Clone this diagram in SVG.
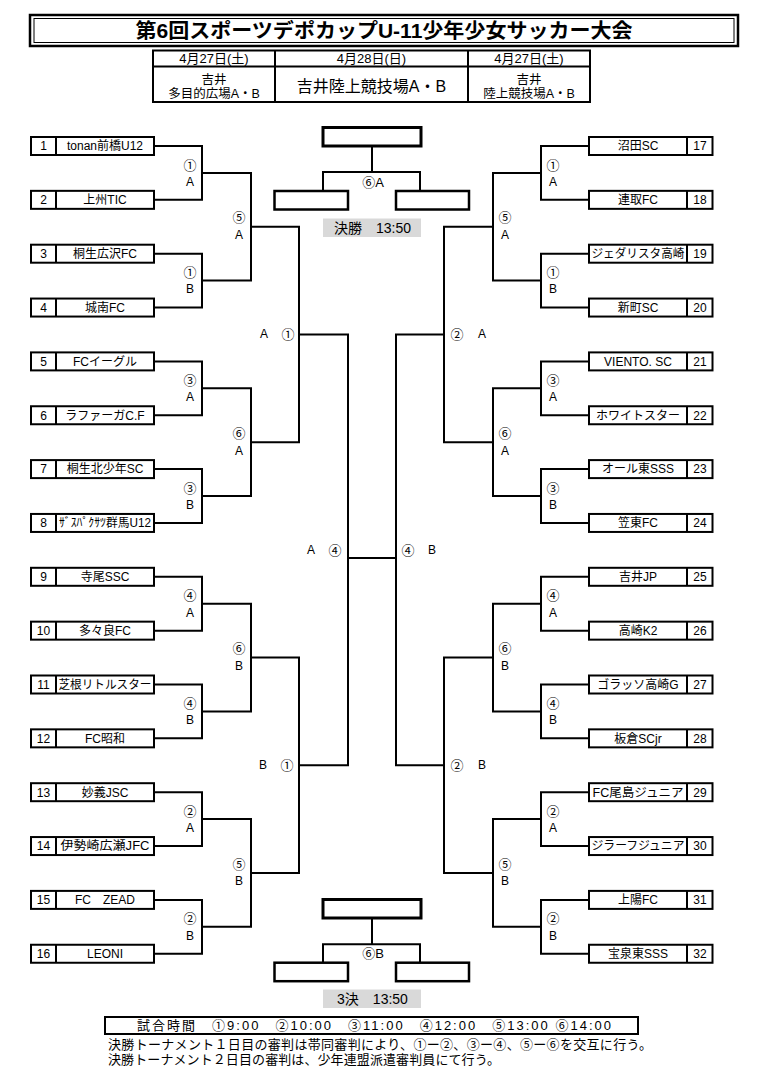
<svg xmlns="http://www.w3.org/2000/svg" width="760" height="1084" viewBox="0 0 760 1084">
<style>
.bg{fill:#fff}
.box{fill:#fff;stroke:#000;stroke-width:2}
.fbox{fill:#fff;stroke:#000;stroke-width:2.5}
.dv{stroke:#000;stroke-width:2}
.ln{fill:none;stroke:#000;stroke-width:2}
.t{font-family:"Liberation Sans","Noto Sans CJK JP",sans-serif;font-size:12px;text-anchor:middle;fill:#000}
.c{font-family:"Liberation Sans","Noto Sans CJK JP",sans-serif;font-size:13px;text-anchor:middle;fill:#000}
.l{font-family:"Liberation Sans","Noto Sans CJK JP",sans-serif;font-size:13px;fill:#000}
.grey{fill:#d9d9d9}
</style>
<rect class="bg" x="0" y="0" width="760" height="1084"/>

<g id="title">
<rect x="30" y="15" width="708" height="31" fill="#fff" stroke="#000" stroke-width="2.5"/>
<rect x="34" y="18.5" width="700" height="24" fill="none" stroke="#000" stroke-width="1"/>
<text x="384" y="38" font-family="'Liberation Sans','Noto Sans CJK JP',sans-serif" font-size="20" font-weight="bold" text-anchor="middle" textLength="497" lengthAdjust="spacingAndGlyphs">第6回スポーツデポカップU-11少年少女サッカー大会</text>
</g>

<g id="venue-table">
<rect x="153" y="50.5" width="437" height="51.5" fill="#fff" stroke="#000" stroke-width="2"/>
<line class="dv" x1="153" y1="66.5" x2="590" y2="66.5"/>
<line class="dv" x1="275" y1="50.5" x2="275" y2="102"/>
<line class="dv" x1="468" y1="50.5" x2="468" y2="102"/>
<text class="t" x="214" y="63.3" style="font-size:13px">4月27日(土)</text>
<text class="t" x="371.5" y="63.3" style="font-size:13px">4月28日(日)</text>
<text class="t" x="529" y="63.3" style="font-size:13px">4月27日(土)</text>
<text class="t" x="214" y="83.5" style="font-size:12.5px">吉井</text>
<text class="t" x="214" y="97.5" style="font-size:12.5px">多目的広場A・B</text>
<text class="t" x="371.5" y="91.8" style="font-size:16px">吉井陸上競技場A・B</text>
<text class="t" x="529" y="83.5" style="font-size:12.5px">吉井</text>
<text class="t" x="529" y="97.5" style="font-size:12.5px">陸上競技場A・B</text>
</g>

<g id="connectors">
<path class="ln" d="M154 146 H202 V199.85 H154 M154 253.7 H202 V307.55 H154 M154 361.4 H202 V415.25 H154 M154 469.1 H202 V522.95 H154 M154 576.8 H202 V630.65 H154 M154 684.5 H202 V738.35 H154 M154 792.2 H202 V846.05 H154 M154 899.9 H202 V953.75 H154"/>
<path class="ln" d="M202 172.9 H251 V280.6 H202 M202 388.3 H251 V496 H202 M202 603.7 H251 V711.4 H202 M202 819.1 H251 V926.8 H202"/>
<path class="ln" d="M251 226.8 H299 V442.2 H251 M251 657.6 H299 V873 H251"/>
<path class="ln" d="M299 334.5 H348 V765.3 H299 M348 558 H396"/>
<path class="ln" d="M589 146 H541 V199.85 H589 M589 253.7 H541 V307.55 H589 M589 361.4 H541 V415.25 H589 M589 469.1 H541 V522.95 H589 M589 576.8 H541 V630.65 H589 M589 684.5 H541 V738.35 H589 M589 792.2 H541 V846.05 H589 M589 899.9 H541 V953.75 H589"/>
<path class="ln" d="M541 172.9 H493 V280.6 H541 M541 388.3 H493 V496 H541 M541 603.7 H493 V711.4 H541 M541 819.1 H493 V926.8 H541"/>
<path class="ln" d="M493 226.8 H444 V442.2 H493 M493 657.6 H444 V873 H493"/>
<path class="ln" d="M444 334.5 H396 V765.3 H444"/>
<path class="ln" d="M372 146 V172 M323 191 V172 H420 V191"/>
<path class="ln" d="M372 918 V944.3 M323 962.7 V944.3 H420 V962.7"/>

<g id="match-labels">
<text class="c" x="190" y="169.5">①</text><text class="t" x="190" y="185.7">A</text>
<text class="c" x="190" y="277.2">①</text><text class="t" x="190" y="293.4">B</text>
<text class="c" x="190" y="384.9">③</text><text class="t" x="190" y="401.1">A</text>
<text class="c" x="190" y="492.6">③</text><text class="t" x="190" y="508.8">B</text>
<text class="c" x="190" y="600.3">④</text><text class="t" x="190" y="616.5">A</text>
<text class="c" x="190" y="708">④</text><text class="t" x="190" y="724.2">B</text>
<text class="c" x="190" y="815.7">②</text><text class="t" x="190" y="831.9">A</text>
<text class="c" x="190" y="923.4">②</text><text class="t" x="190" y="939.6">B</text>
<text class="c" x="239" y="222.4">⑤</text><text class="t" x="239" y="239.1">A</text>
<text class="c" x="239" y="437.8">⑥</text><text class="t" x="239" y="454.5">A</text>
<text class="c" x="239" y="653.2">⑥</text><text class="t" x="239" y="669.9">B</text>
<text class="c" x="239" y="868.6">⑤</text><text class="t" x="239" y="885.3">B</text>
<text class="c" x="553" y="169.5">①</text><text class="t" x="553" y="185.7">A</text>
<text class="c" x="553" y="277.2">①</text><text class="t" x="553" y="293.4">B</text>
<text class="c" x="553" y="384.9">③</text><text class="t" x="553" y="401.1">A</text>
<text class="c" x="553" y="492.6">③</text><text class="t" x="553" y="508.8">B</text>
<text class="c" x="553" y="600.3">④</text><text class="t" x="553" y="616.5">A</text>
<text class="c" x="553" y="708">④</text><text class="t" x="553" y="724.2">B</text>
<text class="c" x="553" y="815.7">②</text><text class="t" x="553" y="831.9">A</text>
<text class="c" x="553" y="923.4">②</text><text class="t" x="553" y="939.6">B</text>
<text class="c" x="505" y="222.4">⑤</text><text class="t" x="505" y="239.1">A</text>
<text class="c" x="505" y="437.8">⑥</text><text class="t" x="505" y="454.5">A</text>
<text class="c" x="505" y="653.2">⑥</text><text class="t" x="505" y="669.9">B</text>
<text class="c" x="505" y="868.6">⑤</text><text class="t" x="505" y="885.3">B</text>
<text class="t" x="264" y="338.3">A</text><text class="c" x="288" y="338.5">①</text>
<text class="t" x="263" y="769.3">B</text><text class="c" x="287" y="769.5">①</text>
<text class="c" x="457" y="338.5">②</text><text class="t" x="482" y="338.3">A</text>
<text class="c" x="457" y="769.5">②</text><text class="t" x="482" y="769.3">B</text>
<text class="t" x="311" y="554.3">A</text><text class="c" x="335" y="554.5">④</text>
<text class="c" x="408" y="554.5">④</text><text class="t" x="432" y="554.3">B</text>
<text class="c" x="373" y="186.5">⑥A</text>
<text class="c" x="373" y="958">⑥B</text>
</g>
</g>

<g id="final">
<rect x="323" y="127.5" width="98" height="18.5" fill="#fff" stroke="#000" stroke-width="3"/>
<rect class="fbox" x="274.5" y="191" width="73.5" height="18.5"/>
<rect class="fbox" x="396" y="191" width="73" height="18.5"/>
<rect class="grey" x="323" y="218.5" width="98" height="18.5"/>
<text class="c" x="372.5" y="232.8" style="font-size:14px">決勝　13:50</text>
</g>

<g id="third-place">
<rect x="323" y="899.5" width="98" height="18.5" fill="#fff" stroke="#000" stroke-width="3"/>
<rect class="fbox" x="274.5" y="962.7" width="73.5" height="18.5"/>
<rect class="fbox" x="396" y="962.7" width="73" height="18.5"/>
<rect class="grey" x="323" y="989.5" width="98" height="18.5"/>
<text class="c" x="372.5" y="1003.8" style="font-size:14px">3決　13:50</text>
</g>

<g id="team1"><rect class="box" x="31" y="137" width="123" height="18"/><line class="dv" x1="56" y1="137" x2="56" y2="155"/><text class="t" x="43.5" y="150.3">1</text><text class="t" x="105" y="150.3">tonan前橋U12</text></g>
<g id="team2"><rect class="box" x="31" y="190.85" width="123" height="18"/><line class="dv" x1="56" y1="190.85" x2="56" y2="208.85"/><text class="t" x="43.5" y="204.15">2</text><text class="t" x="105" y="204.15">上州TIC</text></g>
<g id="team3"><rect class="box" x="31" y="244.7" width="123" height="18"/><line class="dv" x1="56" y1="244.7" x2="56" y2="262.7"/><text class="t" x="43.5" y="258">3</text><text class="t" x="105" y="258">桐生広沢FC</text></g>
<g id="team4"><rect class="box" x="31" y="298.55" width="123" height="18"/><line class="dv" x1="56" y1="298.55" x2="56" y2="316.55"/><text class="t" x="43.5" y="311.85">4</text><text class="t" x="105" y="311.85">城南FC</text></g>
<g id="team5"><rect class="box" x="31" y="352.4" width="123" height="18"/><line class="dv" x1="56" y1="352.4" x2="56" y2="370.4"/><text class="t" x="43.5" y="365.7">5</text><text class="t" x="105" y="365.7">FCイーグル</text></g>
<g id="team6"><rect class="box" x="31" y="406.25" width="123" height="18"/><line class="dv" x1="56" y1="406.25" x2="56" y2="424.25"/><text class="t" x="43.5" y="419.55">6</text><text class="t" x="105" y="419.55">ラファーガC.F</text></g>
<g id="team7"><rect class="box" x="31" y="460.1" width="123" height="18"/><line class="dv" x1="56" y1="460.1" x2="56" y2="478.1"/><text class="t" x="43.5" y="473.4">7</text><text class="t" x="105" y="473.4">桐生北少年SC</text></g>
<g id="team8"><rect class="box" x="31" y="513.95" width="123" height="18"/><line class="dv" x1="56" y1="513.95" x2="56" y2="531.95"/><text class="t" x="43.5" y="527.25">8</text><text class="t" x="105" y="527.25" textLength="92" lengthAdjust="spacingAndGlyphs">ｻﾞｽﾊﾟｸｻﾂ群馬U12</text></g>
<g id="team9"><rect class="box" x="31" y="567.8" width="123" height="18"/><line class="dv" x1="56" y1="567.8" x2="56" y2="585.8"/><text class="t" x="43.5" y="581.1">9</text><text class="t" x="105" y="581.1">寺尾SSC</text></g>
<g id="team10"><rect class="box" x="31" y="621.65" width="123" height="18"/><line class="dv" x1="56" y1="621.65" x2="56" y2="639.65"/><text class="t" x="43.5" y="634.95">10</text><text class="t" x="105" y="634.95">多々良FC</text></g>
<g id="team11"><rect class="box" x="31" y="675.5" width="123" height="18"/><line class="dv" x1="56" y1="675.5" x2="56" y2="693.5"/><text class="t" x="43.5" y="688.8">11</text><text class="t" x="105" y="688.8" textLength="93" lengthAdjust="spacingAndGlyphs">芝根リトルスター</text></g>
<g id="team12"><rect class="box" x="31" y="729.35" width="123" height="18"/><line class="dv" x1="56" y1="729.35" x2="56" y2="747.35"/><text class="t" x="43.5" y="742.65">12</text><text class="t" x="105" y="742.65">FC昭和</text></g>
<g id="team13"><rect class="box" x="31" y="783.2" width="123" height="18"/><line class="dv" x1="56" y1="783.2" x2="56" y2="801.2"/><text class="t" x="43.5" y="796.5">13</text><text class="t" x="105" y="796.5">妙義JSC</text></g>
<g id="team14"><rect class="box" x="31" y="837.05" width="123" height="18"/><line class="dv" x1="56" y1="837.05" x2="56" y2="855.05"/><text class="t" x="43.5" y="850.35">14</text><text class="t" x="105" y="850.35" textLength="89" lengthAdjust="spacingAndGlyphs">伊勢崎広瀬JFC</text></g>
<g id="team15"><rect class="box" x="31" y="890.9" width="123" height="18"/><line class="dv" x1="56" y1="890.9" x2="56" y2="908.9"/><text class="t" x="43.5" y="904.2">15</text><text class="t" x="105" y="904.2" xml:space="preserve">FC　ZEAD</text></g>
<g id="team16"><rect class="box" x="31" y="944.75" width="123" height="18"/><line class="dv" x1="56" y1="944.75" x2="56" y2="962.75"/><text class="t" x="43.5" y="958.05">16</text><text class="t" x="105" y="958.05">LEONI</text></g>

<g id="team17"><rect class="box" x="589" y="137" width="123.5" height="18"/><line class="dv" x1="687" y1="137" x2="687" y2="155"/><text class="t" x="638" y="150.3">沼田SC</text><text class="t" x="700" y="150.3">17</text></g>
<g id="team18"><rect class="box" x="589" y="190.85" width="123.5" height="18"/><line class="dv" x1="687" y1="190.85" x2="687" y2="208.85"/><text class="t" x="638" y="204.15">連取FC</text><text class="t" x="700" y="204.15">18</text></g>
<g id="team19"><rect class="box" x="589" y="244.7" width="123.5" height="18"/><line class="dv" x1="687" y1="244.7" x2="687" y2="262.7"/><text class="t" x="638" y="258" textLength="93" lengthAdjust="spacingAndGlyphs">ジェダリスタ高崎</text><text class="t" x="700" y="258">19</text></g>
<g id="team20"><rect class="box" x="589" y="298.55" width="123.5" height="18"/><line class="dv" x1="687" y1="298.55" x2="687" y2="316.55"/><text class="t" x="638" y="311.85">新町SC</text><text class="t" x="700" y="311.85">20</text></g>
<g id="team21"><rect class="box" x="589" y="352.4" width="123.5" height="18"/><line class="dv" x1="687" y1="352.4" x2="687" y2="370.4"/><text class="t" x="638" y="365.7">VIENTO. SC</text><text class="t" x="700" y="365.7">21</text></g>
<g id="team22"><rect class="box" x="589" y="406.25" width="123.5" height="18"/><line class="dv" x1="687" y1="406.25" x2="687" y2="424.25"/><text class="t" x="638" y="419.55">ホワイトスター</text><text class="t" x="700" y="419.55">22</text></g>
<g id="team23"><rect class="box" x="589" y="460.1" width="123.5" height="18"/><line class="dv" x1="687" y1="460.1" x2="687" y2="478.1"/><text class="t" x="638" y="473.4">オール東SSS</text><text class="t" x="700" y="473.4">23</text></g>
<g id="team24"><rect class="box" x="589" y="513.95" width="123.5" height="18"/><line class="dv" x1="687" y1="513.95" x2="687" y2="531.95"/><text class="t" x="638" y="527.25">笠東FC</text><text class="t" x="700" y="527.25">24</text></g>
<g id="team25"><rect class="box" x="589" y="567.8" width="123.5" height="18"/><line class="dv" x1="687" y1="567.8" x2="687" y2="585.8"/><text class="t" x="638" y="581.1">吉井JP</text><text class="t" x="700" y="581.1">25</text></g>
<g id="team26"><rect class="box" x="589" y="621.65" width="123.5" height="18"/><line class="dv" x1="687" y1="621.65" x2="687" y2="639.65"/><text class="t" x="638" y="634.95">高崎K2</text><text class="t" x="700" y="634.95">26</text></g>
<g id="team27"><rect class="box" x="589" y="675.5" width="123.5" height="18"/><line class="dv" x1="687" y1="675.5" x2="687" y2="693.5"/><text class="t" x="638" y="688.8">ゴラッソ高崎G</text><text class="t" x="700" y="688.8">27</text></g>
<g id="team28"><rect class="box" x="589" y="729.35" width="123.5" height="18"/><line class="dv" x1="687" y1="729.35" x2="687" y2="747.35"/><text class="t" x="638" y="742.65">板倉SCjr</text><text class="t" x="700" y="742.65">28</text></g>
<g id="team29"><rect class="box" x="589" y="783.2" width="123.5" height="18"/><line class="dv" x1="687" y1="783.2" x2="687" y2="801.2"/><text class="t" x="638" y="796.5" textLength="91" lengthAdjust="spacingAndGlyphs">FC尾島ジュニア</text><text class="t" x="700" y="796.5">29</text></g>
<g id="team30"><rect class="box" x="589" y="837.05" width="123.5" height="18"/><line class="dv" x1="687" y1="837.05" x2="687" y2="855.05"/><text class="t" x="638" y="850.35" textLength="93" lengthAdjust="spacingAndGlyphs">ジラーフジュニア</text><text class="t" x="700" y="850.35">30</text></g>
<g id="team31"><rect class="box" x="589" y="890.9" width="123.5" height="18"/><line class="dv" x1="687" y1="890.9" x2="687" y2="908.9"/><text class="t" x="638" y="904.2">上陽FC</text><text class="t" x="700" y="904.2">31</text></g>
<g id="team32"><rect class="box" x="589" y="944.75" width="123.5" height="18"/><line class="dv" x1="687" y1="944.75" x2="687" y2="962.75"/><text class="t" x="638" y="958.05">宝泉東SSS</text><text class="t" x="700" y="958.05">32</text></g>

<g id="notes">
<rect x="105" y="1017" width="533" height="17" fill="#fff" stroke="#000" stroke-width="2"/>
<text class="l" x="137" y="1030" textLength="474">試合時間　①9:00　②10:00　③11:00　④12:00　⑤13:00 ⑥14:00</text>
<text class="l" x="108" y="1048.5" textLength="544">決勝トーナメント１日目の審判は帯同審判により、①ー②、③ー④、⑤ー⑥を交互に行う。</text>
<text class="l" x="108" y="1064" textLength="392">決勝トーナメント２日目の審判は、少年連盟派遣審判員にて行う。</text>
</g>
</svg>
